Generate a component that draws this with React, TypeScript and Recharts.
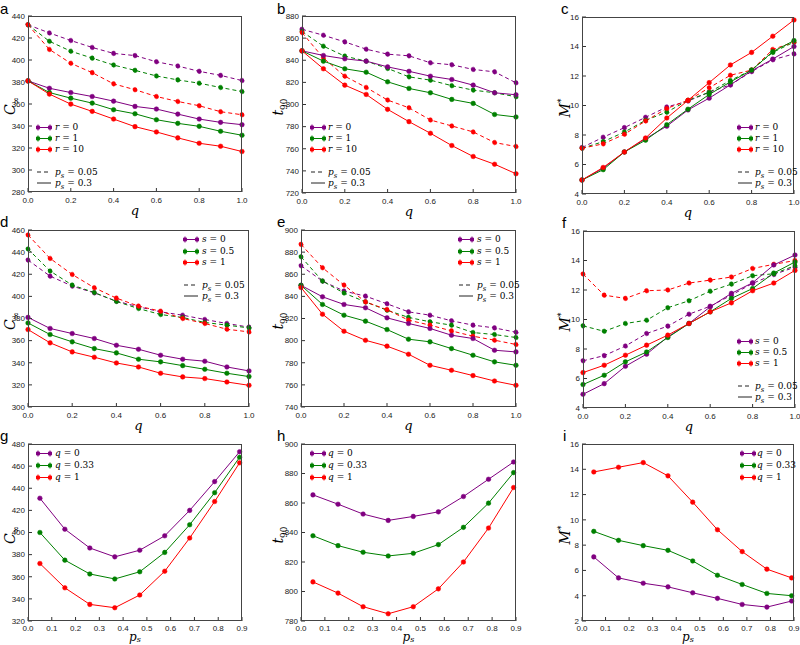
import React from 'react';
import { LineChart, Line, XAxis, YAxis } from 'recharts';

const PURPLE = '#800080';
const GREEN = '#008000';
const RED = '#ff0000';

const qVals = [0, 0.1, 0.2, 0.3, 0.4, 0.5, 0.6, 0.7, 0.8, 0.9, 1.0];
const psVals = [0.05, 0.155, 0.26, 0.365, 0.47, 0.575, 0.68, 0.785, 0.89];
const qTicks = [0, 0.2, 0.4, 0.6, 0.8, 1.0];
const psTicks = [0, 0.1, 0.2, 0.3, 0.4, 0.5, 0.6, 0.7, 0.8, 0.9];

// a: C_inf vs q, colour = r
const aDashR0 = [432, 424.6, 417.7, 411.4, 406, 404, 398.4, 394.5, 389.7, 386, 381.3];
const aDashR1 = [432, 417, 408, 401.7, 395.4, 390.6, 385.5, 381.9, 378.9, 375, 371.3];
const aDashR10 = [432, 409.6, 397, 388.5, 378.3, 373, 366.8, 362.3, 358.4, 353, 350.2];
const aSolidR0 = [381, 374.3, 370.4, 366.8, 362.6, 357.8, 355.4, 350.8, 346.3, 343.3, 341.2];
const aSolidR1 = [381, 370.4, 365.3, 360.8, 354.8, 351.1, 345.7, 342.4, 339.7, 335.2, 331.6];
const aSolidR10 = [381, 369, 359.9, 353.3, 346.3, 339.4, 334.6, 329.2, 324.3, 321.6, 316.8];

// b: t90 vs q
const bDashR0 = [868, 862.6, 856.6, 850, 845.5, 844, 837.7, 835.9, 831.7, 829.5, 819.6];
const bDashR1 = [866, 852.7, 843.7, 839.2, 832.6, 825, 822, 817, 813, 810.6, 807];
const bDashR10 = [865, 842, 825.6, 815.4, 804, 797, 786, 780.6, 775.2, 765.6, 762];
const bSolidR0 = [848.5, 844.3, 841.3, 839.2, 834, 830, 825.6, 822.6, 817.5, 810.6, 808.8];
const bSolidR1 = [848.5, 839.2, 832.3, 829.2, 820.5, 814.5, 810.6, 804.6, 801, 791, 788.7];
const bSolidR10 = [848.5, 832.3, 817.5, 809.1, 795.6, 784.5, 774, 762.9, 753, 746, 737.4];

// c: M* vs q
const cDashR0 = [7.15, 7.85, 8.5, 9.2, 9.9, 10.3, 10.9, 11.4, 12.3, 13.1, 13.5];
const cDashR1 = [7.1, 7.55, 8.2, 9.0, 9.55, 10.35, 10.9, 11.7, 12.4, 13.6, 14.3];
const cDashR10 = [7.1, 7.4, 8.05, 8.95, 9.8, 10.35, 11.2, 12.05, 12.4, 13.8, 14.3];
const cSolidR0 = [4.95, 5.75, 6.85, 7.75, 8.6, 9.7, 10.5, 11.4, 12.35, 13.15, 14.0];
const cSolidR1 = [4.95, 5.65, 6.85, 7.65, 8.7, 9.75, 10.75, 11.6, 12.4, 13.65, 14.4];
const cSolidR10 = [4.95, 5.8, 6.85, 7.8, 9.15, 10.35, 11.55, 12.75, 13.6, 14.7, 15.8];

// d: C_inf vs q, colour = s
const dDashS0 = [432.8, 418.3, 409.3, 403.2, 395.7, 390.6, 386, 383, 379.1, 375.5, 372.2];
const dDashS05 = [442.8, 422.9, 410.2, 403.5, 395.4, 389, 383.6, 380.9, 376.4, 374, 371.5];
const dDashS1 = [455.5, 434.3, 419.8, 407.8, 398.4, 391.2, 386.6, 380, 375.5, 370.3, 367.9];
const dSolidS0 = [381, 371, 366.4, 361.9, 355.8, 352.2, 346.8, 343.2, 341.4, 336.2, 332.6];
const dSolidS05 = [376, 365.5, 358.9, 352.8, 348.9, 343.2, 340.8, 337.4, 334.1, 330.5, 327.5];
const dSolidS1 = [370, 358, 349.8, 345, 339.8, 336.2, 330.5, 327.2, 325.7, 322.6, 319.6];

// e: t90 vs q
const eDashS0 = [867.7, 853.8, 844.8, 840.2, 833.3, 826, 823, 817.9, 814, 811.5, 807.6];
const eDashS05 = [875.8, 853.8, 843, 835, 827.5, 821, 817, 814, 807.3, 805.5, 802.8];
const eDashS1 = [887, 865.9, 850.2, 835, 828, 818.5, 814, 808.8, 804, 800.4, 796.5];
const eSolidS0 = [850, 839.6, 832.7, 829.7, 820.6, 815.5, 811, 804.9, 801.9, 791.3, 789.8];
const eSolidS05 = [850, 832.7, 823, 817.6, 810, 801.3, 798.9, 792.8, 786.8, 780.8, 777.7];
const eSolidS1 = [848, 823.9, 808.5, 800.3, 795, 787.7, 777.7, 773.2, 768.4, 763.5, 759.6];

// f: M* vs q
const fDashS0 = [7.2, 7.55, 8.2, 9.05, 9.55, 10.36, 10.9, 11.65, 12.45, 13.05, 13.55];
const fDashS05 = [9.57, 9.2, 9.73, 9.95, 10.8, 11.27, 11.92, 12.4, 12.97, 13.1, 13.65];
const fDashS1 = [13.08, 11.65, 11.43, 11.95, 12.0, 12.47, 12.67, 12.88, 13.46, 13.74, 14.0];
const fSolidS0 = [4.93, 5.65, 6.83, 7.65, 8.82, 9.73, 10.86, 11.77, 12.49, 13.7, 14.37];
const fSolidS05 = [5.59, 6.22, 7.13, 7.8, 8.78, 9.73, 10.52, 11.43, 12.1, 13.15, 13.9];
const fSolidS1 = [6.4, 6.9, 7.58, 8.26, 8.94, 9.73, 10.52, 11.13, 11.95, 12.47, 13.33];

// g, h, i: vs p_s, colour = q
const gQ0 = [431, 403, 386, 378, 384, 397, 420, 446, 473];
const gQ033 = [400, 375, 362.5, 358, 364.5, 382, 407, 436, 468];
const gQ1 = [372, 350, 335, 332, 343.5, 365, 395, 428, 463];

const hQ0 = [865.5, 859.2, 852.5, 848.2, 850.9, 854, 864.4, 876.1, 887.8];
const hQ033 = [837.8, 831.1, 826.6, 824.1, 825.9, 831.8, 843.5, 859.9, 880.6];
const hQ1 = [806.5, 798.9, 789.7, 784.9, 789.7, 801.8, 820, 843, 870.5];

const iQ0 = [7.07, 5.41, 4.99, 4.7, 4.23, 3.79, 3.31, 3.1, 3.58];
const iQ033 = [9.09, 8.38, 7.96, 7.59, 6.75, 5.62, 4.89, 4.18, 4.0];
const iQ1 = [13.79, 14.16, 14.53, 13.48, 11.4, 9.22, 7.49, 6.1, 5.41];

const rLabels = ['0', '1', '10'];
const sLabels = ['0', '0.5', '1'];
const qLabels = ['0', '0.33', '1'];
const colors = [PURPLE, GREEN, RED];

type Series = { key: string; color: string; dashed: boolean; values: number[] };

function sixSeries(dash: number[][], solid: number[][]): Series[] {
  const out: Series[] = [];
  dash.forEach((v, i) => out.push({ key: 'd' + i, color: colors[i], dashed: true, values: v }));
  solid.forEach((v, i) => out.push({ key: 's' + i, color: colors[i], dashed: false, values: v }));
  return out;
}

function threeSeries(vals: number[][]): Series[] {
  return vals.map((v, i) => ({ key: 'q' + i, color: colors[i], dashed: false, values: v }));
}

function buildRows(xs: number[], series: Series[]) {
  return xs.map((x, i) => {
    const row: Record<string, number> = { x };
    series.forEach((s) => {
      row[s.key] = s.values[i];
    });
    return row;
  });
}

const range = (a: number, b: number, step: number) => {
  const out: number[] = [];
  for (let v = a; v <= b + 1e-9; v += step) out.push(Math.round(v * 100) / 100);
  return out;
};

const tickStyle = { fontSize: 8, fill: '#222', fontFamily: "'Liberation Sans', sans-serif" };
const mathFont = "'DejaVu Serif', 'Liberation Serif', serif";

function YLabel({ kind }: { kind: string }) {
  if (kind === 'C') return <span><i>C</i><sub style={{ fontSize: 9 }}>∞</sub></span>;
  if (kind === 't') return <span><i>t</i><sub style={{ fontSize: 9 }}>90</sub></span>;
  return <span><i>M</i><sup style={{ fontSize: 9 }}>*</sup></span>;
}

function Marker({ color }: { color: string }) {
  return (
    <svg width={16} height={9} style={{ display: 'block' }}>
      <line x1={2} x2={14} y1={4.5} y2={4.5} stroke={color} strokeWidth={1} />
      {[2, 14].map((cx) => (
        <g key={cx}>
          <line x1={cx} x2={cx} y1={1} y2={8} stroke={color} strokeWidth={0.8} opacity={0.6} />
          <circle cx={cx} cy={4.5} r={2.3} fill={color} />
        </g>
      ))}
    </svg>
  );
}

type LegendCfg = { mx: number; tx: number; rowsY: number[]; psY?: number[]; varName: string; labels: string[] };

function Legend({ cfg }: { cfg: LegendCfg }) {
  const txt = { position: 'absolute' as const, fontFamily: mathFont, fontSize: 9, lineHeight: '10px', whiteSpace: 'nowrap' as const };
  return (
    <>
      {cfg.rowsY.map((y, i) => (
        <React.Fragment key={i}>
          <div style={{ position: 'absolute', left: cfg.mx, top: y - 4.5 }}>
            <Marker color={colors[i]} />
          </div>
          <div style={{ ...txt, left: cfg.tx, top: y - 5 }}>
            <i>{cfg.varName}</i> = {cfg.labels[i]}
          </div>
        </React.Fragment>
      ))}
      {cfg.psY &&
        cfg.psY.map((y, i) => (
          <React.Fragment key={'p' + i}>
            <svg width={16} height={4} style={{ position: 'absolute', left: cfg.mx, top: y - 2 }}>
              <line x1={1} x2={15} y1={2} y2={2} stroke="#222" strokeWidth={1} strokeDasharray={i === 0 ? '4 3' : undefined} />
            </svg>
            <div style={{ ...txt, left: cfg.tx, top: y - 5 }}>
              <i>p</i><sub style={{ fontSize: 7 }}><i>s</i></sub> = {i === 0 ? '0.05' : '0.3'}
            </div>
          </React.Fragment>
        ))}
    </>
  );
}

type PanelCfg = {
  letter: string;
  letterX: number;
  ylx: number;
  rect: [number, number, number, number];
  xs: number[];
  xDomain: [number, number];
  xTicks: number[];
  yDomain: [number, number];
  yTicks: number[];
  series: Series[];
  ylabel: string;
  xlabel: 'q' | 'ps';
  legend: LegendCfg;
};

function Panel({ p }: { p: PanelCfg }) {
  const [L, T, R, B] = p.rect;
  const w = R - L + 50;
  const h = B - T + 40;
  const data = buildRows(p.xs, p.series);
  const isPs = p.xlabel === 'ps';
  return (
    <>
      <div style={{ position: 'absolute', left: L - 40, top: T - 10, width: w, height: h }}>
        <LineChart width={w} height={h} data={data} margin={{ top: 10, right: 10, bottom: 0, left: 0 }}>
          <XAxis
            type="number"
            dataKey="x"
            domain={p.xDomain}
            ticks={p.xTicks}
            interval={0}
            tickFormatter={(v: number) => v.toFixed(1)}
            height={30}
            axisLine={false}
            tickSize={-4}
            tickMargin={isPs ? 8 : 9}
            tickLine={{ stroke: '#333' }}
            tick={tickStyle}
          />
          <YAxis
            type="number"
            domain={p.yDomain}
            ticks={p.yTicks}
            interval={0}
            width={40}
            axisLine={false}
            tickSize={-4}
            tickMargin={7}
            tickLine={{ stroke: '#333' }}
            tick={tickStyle}
          />
          {p.series.map((s) => (
            <Line
              key={s.key}
              type="linear"
              dataKey={s.key}
              stroke={s.color}
              strokeWidth={1}
              strokeDasharray={s.dashed ? '4 3' : undefined}
              dot={{ r: 2.3, fill: s.color, stroke: s.color, strokeWidth: 0.5 }}
              activeDot={false}
              isAnimationActive={false}
            />
          ))}
        </LineChart>
      </div>
      <div
        style={{
          position: 'absolute',
          left: L,
          top: T,
          width: R - L,
          height: B - T,
          border: '1px solid #444',
          boxSizing: 'border-box',
          pointerEvents: 'none',
        }}
      />
      <div style={{ position: 'absolute', left: p.letterX, top: Math.max(1, T - 16), fontFamily: "'Liberation Sans', sans-serif", fontSize: 15, lineHeight: '15px' }}>
        {p.letter}
      </div>
      <div
        style={{
          position: 'absolute',
          left: p.ylx - 40,
          top: (T + B) / 2 - 8,
          width: 80,
          height: 20,
          textAlign: 'center',
          transform: 'rotate(-90deg)',
          fontFamily: mathFont,
          fontSize: 14,
          lineHeight: '20px',
        }}
      >
        <YLabel kind={p.ylabel} />
      </div>
      <div
        style={{
          position: 'absolute',
          left: (L + R) / 2 - 30,
          top: isPs ? B + 11 : B + 12,
          width: 60,
          textAlign: 'center',
          fontFamily: mathFont,
          fontSize: isPs ? 12 : 13,
          lineHeight: isPs ? '11px' : '13px',
        }}
      >
        {isPs ? (
          <span>
            <i>p</i>
            <span style={{ fontSize: 8, position: 'relative', top: 1 }}>
              <i>s</i>
            </span>
          </span>
        ) : (
          <i>q</i>
        )}
      </div>
      <Legend cfg={p.legend} />
    </>
  );
}

const topRows = [127, 138, 149];
const topPs = [172, 183];
const midRows = [239, 251, 262];
const midPs = [285, 296];
const fRows = [341, 352, 363];
const fPs = [386, 397];
const botRows = [453, 465, 477];

const panels: PanelCfg[] = [
  {
    letter: 'a', letterX: 0, ylx: 10, rect: [28, 16, 242, 192], xs: qVals, xDomain: [0, 1], xTicks: qTicks,
    yDomain: [280, 440], yTicks: range(280, 440, 20),
    series: sixSeries([aDashR0, aDashR1, aDashR10], [aSolidR0, aSolidR1, aSolidR10]),
    ylabel: 'C', xlabel: 'q',
    legend: { mx: 36, tx: 55, rowsY: topRows, psY: topPs, varName: 'r', labels: rLabels },
  },
  {
    letter: 'b', letterX: 277, ylx: 278, rect: [302, 16, 516, 193], xs: qVals, xDomain: [0, 1], xTicks: qTicks,
    yDomain: [720, 880], yTicks: range(720, 880, 20),
    series: sixSeries([bDashR0, bDashR1, bDashR10], [bSolidR0, bSolidR1, bSolidR10]),
    ylabel: 't', xlabel: 'q',
    legend: { mx: 310, tx: 328, rowsY: topRows, psY: topPs, varName: 'r', labels: rLabels },
  },
  {
    letter: 'c', letterX: 561, ylx: 561, rect: [582, 17, 794, 194], xs: qVals, xDomain: [0, 1], xTicks: qTicks,
    yDomain: [4, 16], yTicks: range(4, 16, 2),
    series: sixSeries([cDashR0, cDashR1, cDashR10], [cSolidR0, cSolidR1, cSolidR10]),
    ylabel: 'M', xlabel: 'q',
    legend: { mx: 737, tx: 755, rowsY: topRows, psY: topPs, varName: 'r', labels: rLabels },
  },
  {
    letter: 'd', letterX: 0, ylx: 10, rect: [28, 230, 249, 407], xs: qVals, xDomain: [0, 1], xTicks: qTicks,
    yDomain: [300, 460], yTicks: range(300, 460, 20),
    series: sixSeries([dDashS0, dDashS05, dDashS1], [dSolidS0, dSolidS05, dSolidS1]),
    ylabel: 'C', xlabel: 'q',
    legend: { mx: 183, tx: 202, rowsY: midRows, psY: midPs, varName: 's', labels: sLabels },
  },
  {
    letter: 'e', letterX: 277, ylx: 278, rect: [301, 230, 516, 407], xs: qVals, xDomain: [0, 1], xTicks: qTicks,
    yDomain: [740, 900], yTicks: range(740, 900, 20),
    series: sixSeries([eDashS0, eDashS05, eDashS1], [eSolidS0, eSolidS05, eSolidS1]),
    ylabel: 't', xlabel: 'q',
    legend: { mx: 458, tx: 477, rowsY: midRows, psY: midPs, varName: 's', labels: sLabels },
  },
  {
    letter: 'f', letterX: 562, ylx: 561, rect: [583, 231, 795, 408], xs: qVals, xDomain: [0, 1], xTicks: qTicks,
    yDomain: [4, 16], yTicks: range(4, 16, 2),
    series: sixSeries([fDashS0, fDashS05, fDashS1], [fSolidS0, fSolidS05, fSolidS1]),
    ylabel: 'M', xlabel: 'q',
    legend: { mx: 737, tx: 755, rowsY: fRows, psY: fPs, varName: 's', labels: sLabels },
  },
  {
    letter: 'g', letterX: 0, ylx: 10, rect: [28, 444, 242, 621], xs: psVals, xDomain: [0, 0.9], xTicks: psTicks,
    yDomain: [320, 480], yTicks: range(320, 480, 20),
    series: threeSeries([gQ0, gQ033, gQ1]),
    ylabel: 'C', xlabel: 'ps',
    legend: { mx: 36, tx: 55, rowsY: botRows, varName: 'q', labels: qLabels },
  },
  {
    letter: 'h', letterX: 277, ylx: 278, rect: [301, 444, 516, 621], xs: psVals, xDomain: [0, 0.9], xTicks: psTicks,
    yDomain: [780, 900], yTicks: range(780, 900, 20),
    series: threeSeries([hQ0, hQ033, hQ1]),
    ylabel: 't', xlabel: 'ps',
    legend: { mx: 310, tx: 328, rowsY: botRows, varName: 'q', labels: qLabels },
  },
  {
    letter: 'i', letterX: 563, ylx: 561, rect: [582, 444, 794, 621], xs: psVals, xDomain: [0, 0.9], xTicks: psTicks,
    yDomain: [2, 16], yTicks: range(2, 16, 2),
    series: threeSeries([iQ0, iQ033, iQ1]),
    ylabel: 'M', xlabel: 'ps',
    legend: { mx: 740, tx: 757, rowsY: botRows, varName: 'q', labels: qLabels },
  },
];

export default function App() {
  return (
    <div style={{ position: 'absolute', left: 0, top: 0, width: 800, height: 645, overflow: 'hidden', background: '#fff' }}>
      {panels.map((p) => (
        <Panel key={p.letter} p={p} />
      ))}
    </div>
  );
}
